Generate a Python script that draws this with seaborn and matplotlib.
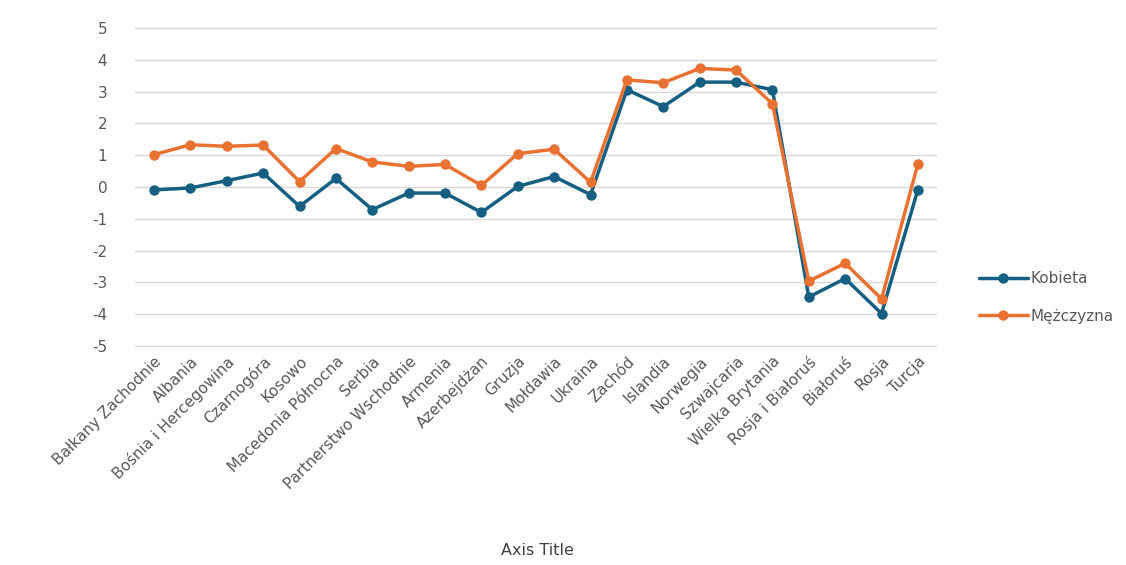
import pandas as pd
import matplotlib
matplotlib.use('Agg')
import matplotlib.pyplot as plt
import seaborn as sns

# categories along the x axis
kraje = ['Bałkany Zachodnie', 'Albania', 'Bośnia i Hercegowina', 'Czarnogóra', 'Kosowo',
         'Macedonia Północna', 'Serbia', 'Partnerstwo Wschodnie', 'Armenia', 'Azerbejdżan',
         'Gruzja', 'Mołdawia', 'Ukraina', 'Zachód', 'Islandia', 'Norwegia', 'Szwajcaria',
         'Wielka Brytania', 'Rosja i Białoruś', 'Białoruś', 'Rosja', 'Turcja']

kobieta = [-0.09, -0.03, 0.20, 0.44, -0.61, 0.27, -0.71, -0.19, -0.19, -0.80,
           0.02, 0.33, -0.24, 3.06, 2.53, 3.30, 3.30, 3.06, -3.46, -2.88, -3.98, -0.08]
mezczyzna = [1.02, 1.33, 1.28, 1.32, 0.17, 1.21, 0.79, 0.65, 0.71, 0.05,
             1.05, 1.19, 0.15, 3.37, 3.28, 3.73, 3.68, 2.62, -2.96, -2.40, -3.52, 0.73]

df = pd.DataFrame({
    'kraj': kraje * 2,
    'wartosc': kobieta + mezczyzna,
    'plec': ['Kobieta'] * len(kraje) + ['Mężczyzna'] * len(kraje),
})
df['kraj'] = pd.Categorical(df['kraj'], categories=kraje, ordered=True)
df['x'] = df['kraj'].cat.codes

sns.set_style('white')
plt.rcParams['font.family'] = ['DejaVu Sans']
plt.rcParams['axes.unicode_minus'] = False

fig = plt.figure(figsize=(11.26, 5.65), dpi=100)
ax = fig.add_axes([0.12, 0.386, 0.712, 0.566])

palette = {'Kobieta': '#156082', 'Mężczyzna': '#E97132'}
sns.lineplot(data=df, x='x', y='wartosc', hue='plec', palette=palette, marker='o',
             markersize=7.5, markeredgewidth=0, linewidth=2.5, ax=ax, zorder=3)

ax.set_xlim(-0.52, len(kraje) - 0.48)
ax.set_ylim(-5.03, 5.03)
ax.set_yticks(range(-5, 6))
ax.set_xticks(range(len(kraje)))
ax.set_xticklabels(kraje, rotation=45, ha='right', rotation_mode='anchor')
ax.tick_params(axis='both', length=0, labelcolor='#595959')
ax.tick_params(axis='y', pad=20, labelsize=11)
ax.tick_params(axis='x', pad=5, labelsize=11)
ax.yaxis.grid(True, color='#d9d9d9', linewidth=1)
ax.xaxis.grid(False)
for s in ax.spines.values():
    s.set_visible(False)

ax.set_ylabel('')
ax.set_xlabel('')
fig.text(0.477, 0.025, 'Axis Title', ha='center', va='center', fontsize=11.5, color='#404040')

leg = ax.legend(title=None, loc='center left', bbox_to_anchor=(1.035, 0.155), frameon=False,
                fontsize=11, handlelength=3.2, handletextpad=0.2, labelspacing=1.5)
for t in leg.get_texts():
    t.set_color('#595959')

fig.savefig('out.png', dpi=100)
